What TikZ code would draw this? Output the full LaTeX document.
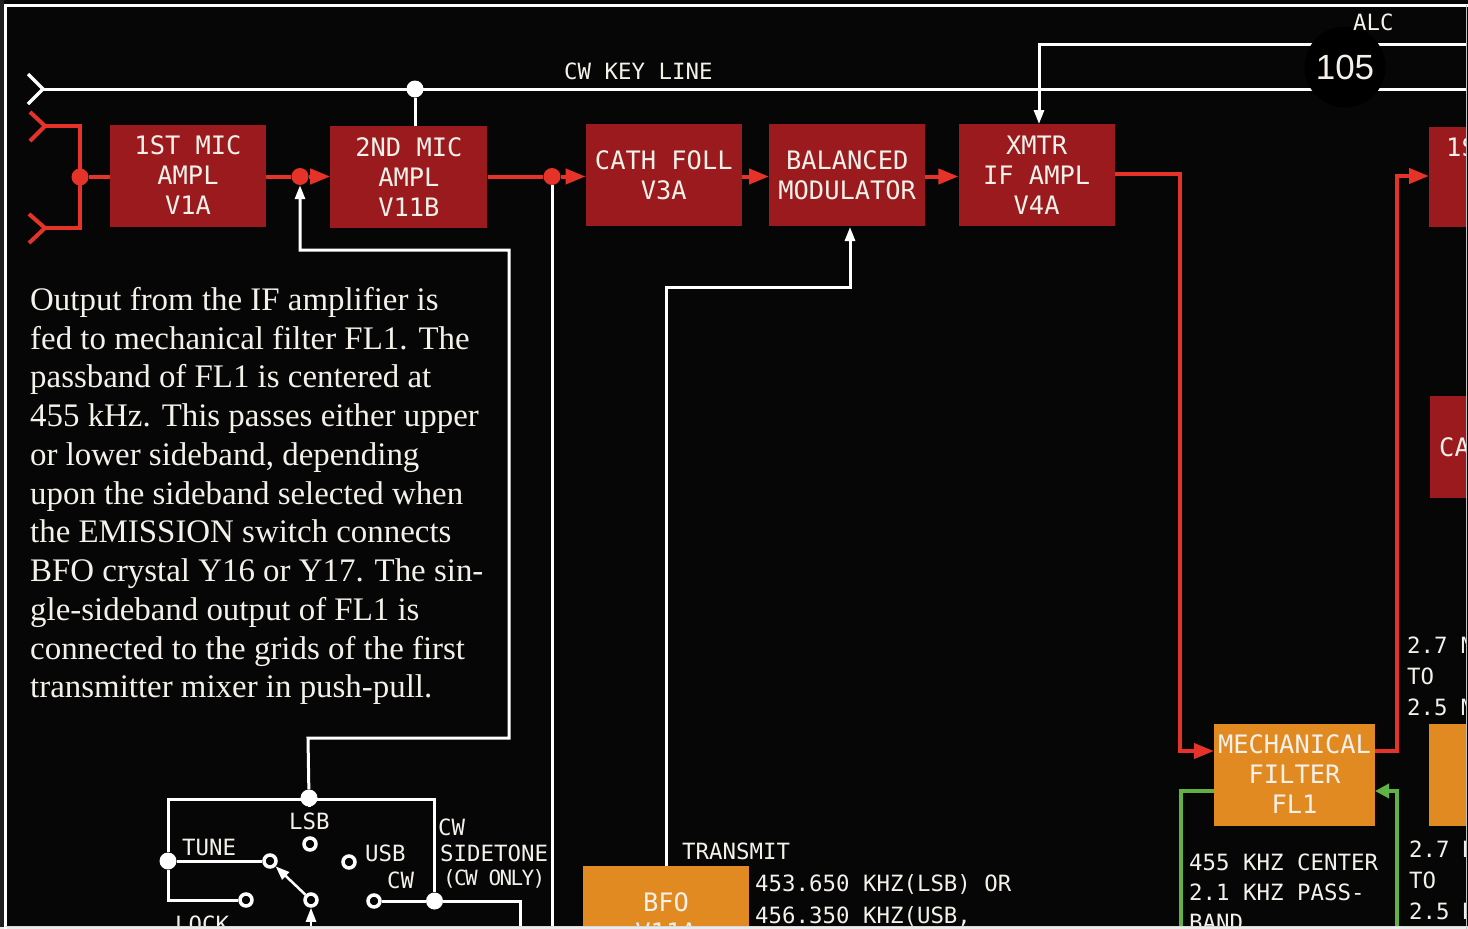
\documentclass[tikz,border=0pt]{standalone}
\usepackage{fontspec}
\setmainfont{Liberation Serif}
\newfontfamily\blockfont{DejaVu Sans Mono}
\newfontfamily\tightfont[LetterSpace=-8]{DejaVu Sans Mono}
\newfontfamily\circlefont{Liberation Sans}
\usetikzlibrary{arrows.meta, positioning, shapes.geometric}
\definecolor{bgblack}{HTML}{060606}
\definecolor{ampred}{HTML}{9B1A1E}
\definecolor{sigred}{HTML}{E63329}
\definecolor{osc}{HTML}{E28A22}
\definecolor{siggreen}{HTML}{62B145}
\definecolor{txt}{HTML}{F4F1EA}

\begin{document}
\begin{tikzpicture}[
		x=1pt, y=-1pt,
		ampbox/.style={rectangle, fill=ampred, minimum width=156pt, minimum height=102pt, inner sep=0pt, align=center, text=txt, font=\blockfont\fontsize{25.4}{30}\selectfont},
		oscbox/.style={ampbox, fill=osc},
		lbl/.style={anchor=west, inner sep=0pt, align=left, text=txt, font=\blockfont\fontsize{22.4}{31}\selectfont},
		bigdot/.style={circle, fill=#1, inner sep=0pt, minimum size=17pt},
		contact/.style={circle, draw=white, line width=3.5pt, fill=bgblack, inner sep=0pt, minimum size=12pt},
		redline/.style={draw=sigred, line width=4pt},
		greenline/.style={draw=siggreen, line width=4pt},
		whiteline/.style={draw=white, line width=3pt},
		redarrow/.style={redline, -{Triangle[length=20pt, width=15pt]}},
		greenarrow/.style={greenline, -{Triangle[length=14pt, width=14pt]}},
		whitearrow/.style={whiteline, -{Triangle[length=14pt, width=10pt]}}
		]
		\useasboundingbox (0,0) rectangle (1468,929);
		\fill[bgblack] (0,0) rectangle (1468,929);
		\fill[black!88] (0,0) rectangle (4,929);
		\fill[white!92!black] (0,927) rectangle (1468,929);
		
		\begin{scope}
		\clip (0,0) rectangle (1466,926);
		
		% Top row
		\node[ampbox] (mica) at (188,175.5) {1ST MIC\\AMPL\\V1A};
		\node[ampbox, minimum width=157pt, right=64pt of mica, yshift=-1.5pt] (micb) {2ND MIC\\AMPL\\V11B};
		\node[ampbox, right=98pt of micb, yshift=2pt] (cath) {CATH FOLL\\V3A};
		\node[ampbox, right=27pt of cath] (balmod) {BALANCED\\MODULATOR};
		\node[ampbox, right=33pt of balmod] (xmtr) {XMTR\\IF AMPL\\V4A};
		
		% Right edge
		\node[ampbox, minimum height=100pt] (mixbox) at (1507,176.5) {};
		\node[lbl, font=\blockfont\fontsize{25.4}{30}\selectfont] (mixtext) at (1446,147) {1S};
		\node[ampbox] (carbox) at (1508,447) {};
		\node[lbl, font=\blockfont\fontsize{25.4}{30}\selectfont] (cartext) at (1439,447) {CA};
		\node[oscbox] (oscright) at (1507,775) {};
		
		% Filter and BFO
		\node[oscbox, minimum width=161pt] (mech) at (1294.5,774.5) {MECHANICAL\\FILTER\\FL1};
		\node[oscbox, minimum width=166pt] (bfo) at (666,917) {BFO\\V11A};
		
		% Junctions
		\node[bigdot=sigred] (inj) at (80,177) {};
		\node[bigdot=sigred] (micj) at (300,176.5) {};
		\node[bigdot=sigred] (sidej) at (552,176.5) {};
		\node[bigdot=white] (keyj) at (415,89) {};
		\node[bigdot=white] (lsbj) at (309,798) {};
		\node[bigdot=white] (tunej) at (168,861) {};
		\node[bigdot=white] (cwj) at (434.5,901) {};
		
		% Switch contacts
		\node[contact] (lsb) at (310,844) {};
		\node[contact] (usb) at (349,862) {};
		\node[contact] (tune) at (270,861) {};
		\node[contact] (lock) at (246,900) {};
		\node[contact] (wiper) at (311,900) {};
		\node[contact] (cw) at (374,901) {};
		
		% Free ends
		\coordinate (keyin) at (43,89);
		\coordinate (keyend) at (1468,89);
		\coordinate (alcend) at (1468,44);
		\coordinate (mica1) at (45,126);
		\coordinate (mica2) at (45,228);
		\coordinate (mechin) at (1214,751);
		\coordinate (mechout) at (1375,751);
		\coordinate (greenin) at (1375,791);
		\coordinate (greenout) at (1214,791);
		\coordinate (mixin) at (1429,176);
		\coordinate (balin) at (850,227);
		
		% Microphone inputs
		\draw[whiteline, line width=3.5pt] (28,74) -- (keyin) -- (28,104);
		\draw[redline] (30,112) -- (mica1) -- (30,141);
		\draw[redline] (29,214) -- (mica2) -- (29,243);
		\draw[redline] (mica1) -| (inj.center) |- (mica2);
		
		% Red signal path
		\draw[redline] (inj) -- (mica.west |- inj);
		\draw[redline] (mica.east |- micj) -- (micj);
		\draw[redarrow] (micj) -- (micb.west |- micj);
		\draw[redline] (micb.east |- sidej) -- (sidej);
		\draw[redarrow] (sidej) -- (cath.west |- sidej);
		\draw[redarrow] (cath.east |- sidej) -- (balmod.west |- sidej);
		\draw[redarrow] (balmod.east |- sidej) -- (xmtr.west |- sidej);
		\draw[redarrow] (1115,174) -- (1180,174) |- (mechin);
		\draw[redarrow] (mechout) -- (1397,751) |- (mixin);
		
		% Green path
		\draw[greenline] (greenout) -- (1181,791) -- (1181,929);
		\draw[greenarrow] (1397,929) |- (greenin);
		
		% White lines
		\draw[whiteline] (keyin) -- (keyend);
		\draw[whiteline] (keyj) -- (micb.north -| keyj);
		\draw[whitearrow] (alcend) -| (1039,124);
		\draw[whitearrow] (lsbj) -- (308,738) -- (509,738) -- (509,250) -- (300,250) -- (micj.south);
		\draw[whiteline] (sidej) -- (552,929);
		\draw[whitearrow] (bfo.north) -- (666,287) -| (balin);
		\draw[whiteline] (tunej) -- (168,799) -- (434.5,799) -- (cwj);
		\draw[whiteline] (lsbj) -- (309,799);
		\draw[whiteline] (tunej) |- (lock);
		\draw[whiteline] (tunej) -- (tune);
		\draw[whiteline] (cw) -- (cwj);
		\draw[whiteline] (cwj) -- (520,901) -- (520,929);
		\draw[whitearrow, line width=2.5pt] (wiper) -- (tune);
		\draw[whitearrow, line width=2.5pt] (311,929) -- (wiper);
		
		% Circled number
		\node[circle, fill=black, minimum size=81pt, inner sep=0pt, text=txt, font=\circlefont\fontsize{35}{35}\selectfont] (alcnum) at (1345,67) {105};
		
		% Labels
		\node[lbl] (keylabel) at (564,71.5) {CW KEY LINE};
		\node[lbl] (alclabel) at (1353,22) {ALC};
		\node[lbl] (lsblabel) at (289,821) {LSB};
		\node[lbl] (tunelabel) at (182,847) {TUNE};
		\node[lbl] (usblabel) at (365,853) {USB};
		\node[lbl] (cwlabel) at (387,880) {CW};
		\node[lbl] (locklabel) at (175,924) {LOCK};
		\node[lbl] (sidelabel) at (438,827) {CW};
		\node[lbl] (sidelabelb) at (440,853) {SIDETONE};
		\node[lbl, font=\tightfont\fontsize{21}{22}\selectfont] (sidelabelc) at (443,879) {(CW ONLY)};
		\node[lbl] (txlabel) at (682,851) {TRANSMIT};
		\node[lbl] (bfofreq) at (755,884) {453.650 KHZ(LSB) OR};
		\node[lbl] (bfofreqb) at (755,917) {456.350 KHZ(USB,};
		\node[lbl, font=\blockfont\fontsize{22.4}{30}\selectfont] (mechnote) at (1189,892) {455 KHZ CENTER\\2.1 KHZ PASS-\\BAND};
		\node[lbl] (rangea) at (1407,676) {2.7 M\\TO\\2.5 M};
		\node[lbl] (rangeb) at (1409,880) {2.7 M\\TO\\2.5 M};
		
		% Description
		\node[anchor=north west, inner sep=0pt, align=left, text=txt, font=\fontsize{32.9}{38.75}\selectfont] (descr) at (30,287) {Output from the IF amplifier is\\fed to mechanical filter FL1. The\\passband of FL1 is centered at\\455 kHz. This passes either upper\\or lower sideband, depending\\upon the sideband selected when\\the EMISSION switch connects\\BFO crystal Y16 or Y17. The sin-\\gle-sideband output of FL1 is\\connected to the grids of the first\\transmitter mixer in push-pull.};
		\end{scope}
		
		% Frame
		\draw[white, line width=2.5pt] (5.5,929) -- (5.5,5.5) -- (1468,5.5);
		\draw[white!75!black, line width=1pt] (1466.5,5) -- (1466.5,929);
		\draw[white!85!black, line width=1.5pt] (5,926.5) -- (1468,926.5);
	\end{tikzpicture}
\end{document}
